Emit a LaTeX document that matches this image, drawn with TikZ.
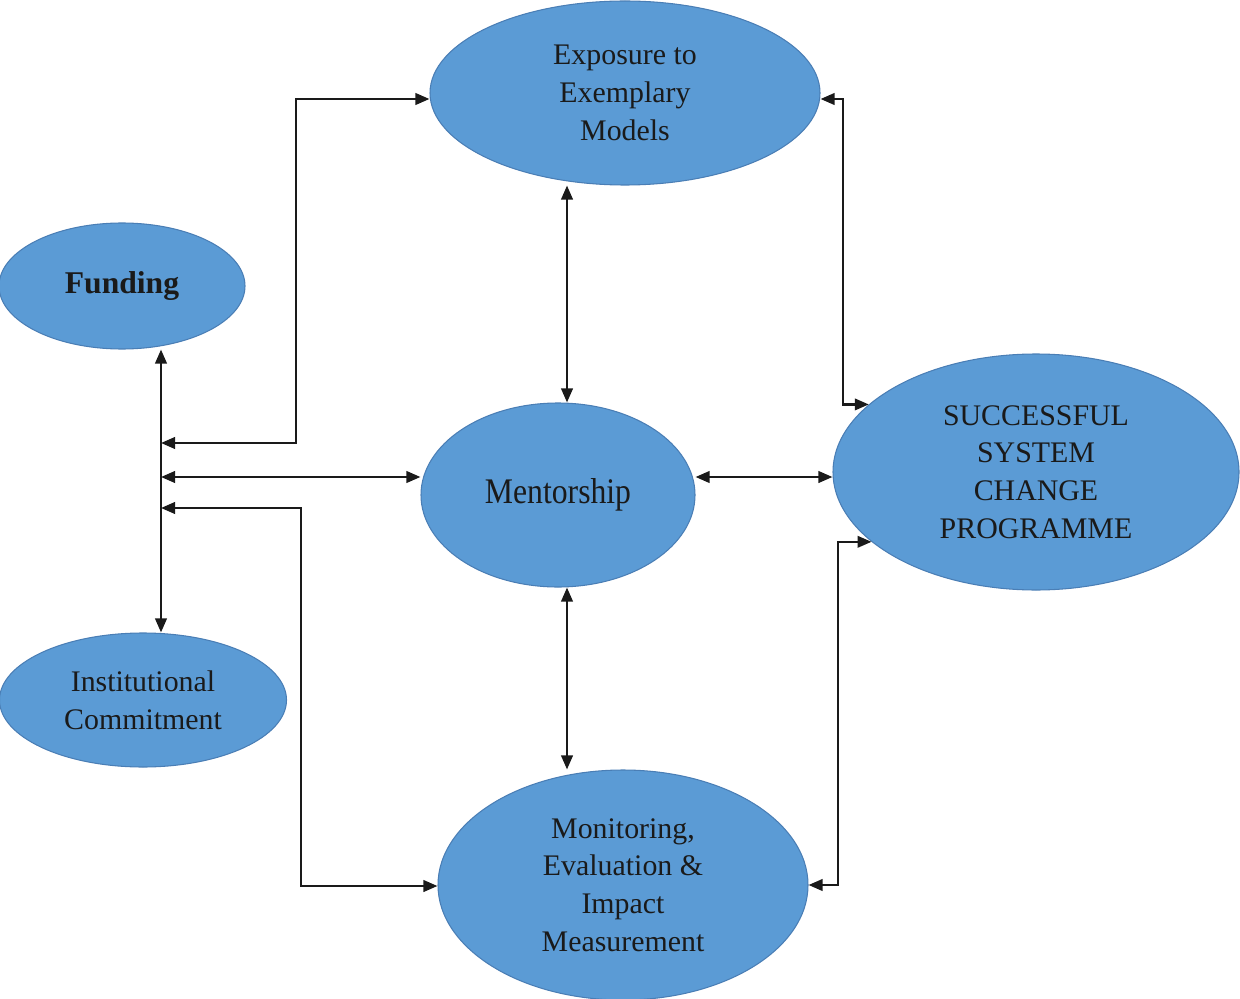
\documentclass[tikz,border=0pt]{standalone}
\usepackage{fontspec}
\setmainfont{Liberation Serif}
\newfontfamily\narrowserif[FakeStretch=0.88]{Liberation Serif}
\usetikzlibrary{shapes.geometric, arrows.meta, calc}
\definecolor{ovalblue}{HTML}{5B9BD5}
\definecolor{ovaledge}{HTML}{4A7EB5}
\definecolor{inkblack}{HTML}{1A1A1A}

\begin{document}
\begin{tikzpicture}[
    font=\fontsize{17}{21.5}\selectfont,
    oval/.style={ellipse, draw=ovaledge, line width=0.6pt, fill=ovalblue, text=inkblack,
      align=center, inner sep=0pt},
    link/.style={{Triangle[length=2.8mm, width=2.3mm]}-{Triangle[length=2.8mm, width=2.3mm]},
      line width=1.3pt, draw=inkblack}
  ]
    \useasboundingbox (0,0) rectangle (24.8,19.96);

    \node[oval, minimum width=7.8cm, minimum height=3.68cm] (expo) at (12.5,18.1) {Exposure to\\Exemplary\\Models};
    \node[oval, minimum width=4.92cm, minimum height=2.52cm] (fund) at (2.44,14.24)
      {\bfseries\fontsize{18}{22}\selectfont Funding};
    \node[oval, minimum width=5.48cm, minimum height=3.68cm] (ment) at (11.16,10.06)
      {\narrowserif\fontsize{20.5}{24}\selectfont Mentorship};
    \node[oval, minimum width=8.12cm, minimum height=4.72cm] (succ) at (20.72,10.52)
      {SUCCESSFUL\\SYSTEM\\CHANGE\\PROGRAMME};
    \node[oval, minimum width=5.74cm, minimum height=2.68cm] (inst) at (2.86,5.96) {Institutional\\Commitment};
    \node[oval, minimum width=7.4cm, minimum height=4.6cm] (moni) at (12.46,2.26)
      {Monitoring,\\Evaluation \&\\Impact\\Measurement};

    % left spine and its three branches
    \coordinate (spine) at (3.22,0);
    \coordinate (j1) at (3.22,11.10);
    \coordinate (j2) at (3.22,10.42);
    \coordinate (j3) at (3.22,9.80);
    \coordinate (b1) at (5.92,17.98);
    \coordinate (b2) at (6.02,2.24);
    % bend columns on the right and the middle column
    \coordinate (b3) at (16.86,0);
    \coordinate (b4) at (16.76,0);
    \coordinate (vx) at (11.34,0);

    \draw[link] (fund.south -| spine) -- (inst.north -| spine);
    \draw[link] (j1) -| (b1) -- (expo.west |- b1);
    \draw[link] (j2) -- (ment.west |- j2);
    \draw[link] (j3) -| (b2) -- (moni.west |- b2);

    \draw[link] (expo.south -| vx) -- (ment.north -| vx);
    \draw[link] (ment.south -| vx) -- (moni.north -| vx);
    \draw[link] (ment.east |- j2) -- (succ.west |- j2);

    \draw[link] (expo.east |- b1) -| (b3 |- succ.158) -- (succ.158);
    \draw[link] (moni.east) -| (b4 |- succ.203) -- (succ.203);
  \end{tikzpicture}
\end{document}
